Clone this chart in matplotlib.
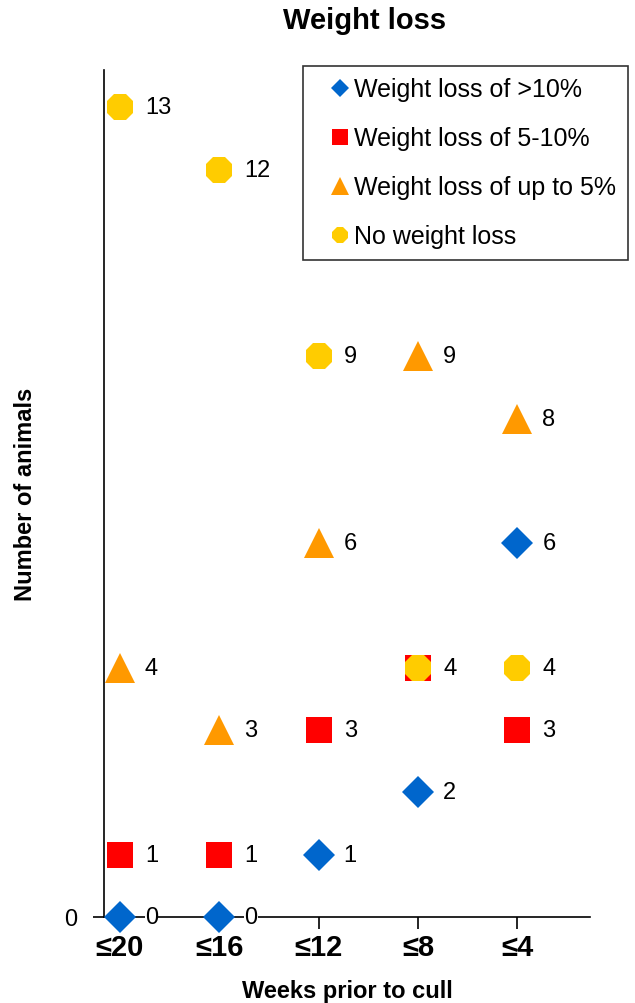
import numpy as np
import matplotlib
matplotlib.use("Agg")
import matplotlib.pyplot as plt

plt.rcParams['font.family'] = ['Liberation Sans', 'DejaVu Sans']

# data
WEEKS = ["≤20", "≤16", "≤12", "≤8", "≤4"]
over_10 = [0, 0, 1, 2, 6]
five_to_10 = [1, 1, 3, 4, 3]
up_to_5 = [4, 3, 6, 9, 8]
no_loss = [13, 12, 9, 4, 4]

# name, values, marker, colour, marker size (plot), marker size (legend)
SERIES = [
    ("Weight loss of >10%", over_10, "D", "#0066CC", 16, 9),
    ("Weight loss of 5-10%", five_to_10, "s", "#FF0000", 19, 11),
    ("Weight loss of up to 5%", up_to_5, "^", "#FF9900", 22, 13),
    ("No weight loss", no_loss, "8", "#FFCC00", 21, 12),
]

fig = plt.figure(figsize=(6.35, 10.04), dpi=100)
ax = fig.add_axes([0.1638, 0.0857, 0.929 - 0.1638, 0.9293 - 0.0857])

x = np.arange(len(WEEKS))
for i, (name, vals, mk, col, ms, lms) in enumerate(SERIES):
    ax.plot(x, vals, linestyle="none", marker=mk, color=col, markersize=ms,
            markeredgewidth=0, zorder=3 + i, clip_on=False)
    # value labels to the right of each marker
    for xi, v in zip(x, vals):
        ax.annotate(str(v), (xi, v), xytext=(18, 0), textcoords="offset points",
                    ha="left", va="center", fontsize=17, zorder=10,
                    bbox=dict(facecolor="white", edgecolor="none", pad=0.2))

ax.set_xlim(-0.16, 4.73)
ax.set_ylim(0, 13.6)

for s in ["top", "right"]:
    ax.spines[s].set_visible(False)
ax.spines["left"].set_linewidth(1.2)
ax.spines["bottom"].set_linewidth(1.2)

ax.set_xticks(x)
ax.set_xticklabels(WEEKS, fontsize=21, fontweight="bold")
ax.set_yticks([0])
ax.set_yticklabels(["0"], fontsize=17)
ax.tick_params(axis="x", direction="out", length=8.5, width=1.2, pad=3)
ax.tick_params(axis="y", direction="out", length=8, width=1.2, pad=11)

ax.set_xlabel("Weeks prior to cull", fontsize=17, fontweight="bold")
ax.xaxis.set_label_coords(0.5, -0.073)
ax.set_ylabel("Number of animals", fontsize=17, fontweight="bold")
ax.yaxis.set_label_coords(-0.138, 0.5)

fig.text(365 / 635, 1 - 21 / 1004, "Weight loss", ha="center", va="center",
         fontsize=21, fontweight="bold")

# legend with small markers
handles = [plt.Line2D([], [], linestyle="none", marker=mk, color=col,
                      markersize=lms, markeredgewidth=0)
           for name, vals, mk, col, ms, lms in SERIES]
leg = fig.legend(handles, [s[0] for s in SERIES], loc="upper left",
                 bbox_to_anchor=(303 / 635, 1 - 67 / 1004), fontsize=18,
                 frameon=True, fancybox=False, edgecolor="black",
                 handlelength=2.08, handletextpad=-0.48, labelspacing=1.0,
                 borderpad=0.45, borderaxespad=0)
leg.get_frame().set_linewidth(1.2)

fig.savefig("out.png", dpi=100)
